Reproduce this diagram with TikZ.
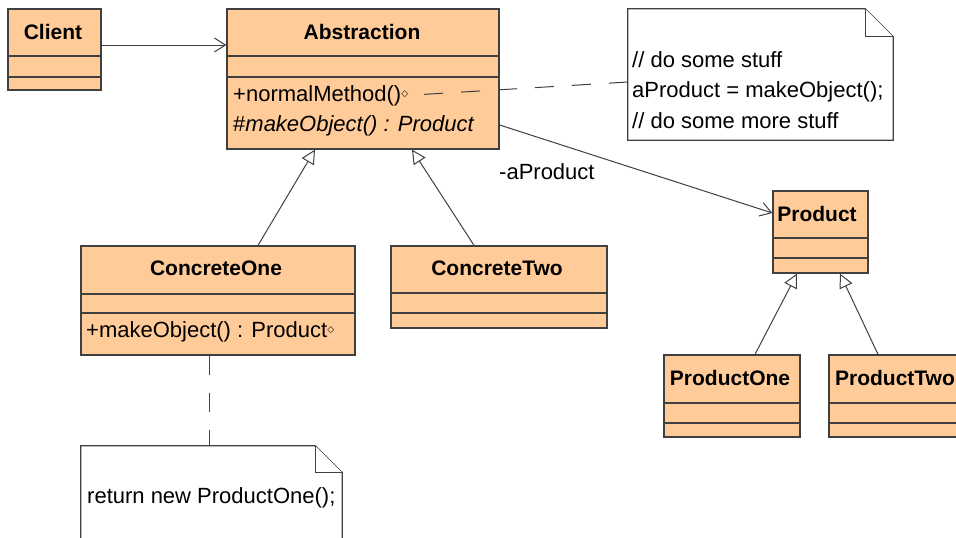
\documentclass[tikz,border=0pt]{standalone}
\usepackage{fontspec}
\setmainfont{Liberation Sans}
\newfontfamily\symfont{DejaVu Sans}
\usetikzlibrary{arrows.meta}
\definecolor{classfill}{RGB}{255,204,153}
\definecolor{umlline}{RGB}{64,64,64}
\newcommand\umlfont{\fontsize{22}{30.5}\selectfont}
\newcommand\umlbold{\fontsize{21}{30.5}\selectfont\bfseries}
\newcommand\opdiamond{{\symfont\fontsize{9}{9}\selectfont\raisebox{5pt}{◇}}}
\tikzset{
  classbox/.style={draw=umlline, fill=classfill, line width=1.3pt, inner sep=0pt},
  compline/.style={draw=umlline, line width=1.3pt},
  classname/.style={font=\umlbold, anchor=base, inner sep=0pt},
  member/.style={font=\umlfont, anchor=base west, inner sep=0pt},
  notebox/.style={inner sep=0pt},
  noteline/.style={draw=umlline, fill=white, line width=1.3pt},
  notetext/.style={font=\umlfont, align=left, anchor=north west, inner sep=0pt},
  assoc/.style={draw=umlline, line width=1pt, -{Straight Barb[length=11pt,width=14pt]}},
  inherit/.style={draw=umlline, line width=1pt, -{Triangle[open,length=14pt,width=14pt,fill=white]}},
  notelink/.style={draw=umlline, line width=1pt, dash pattern=on 19pt off 18pt},
}
\begin{document}
\begin{tikzpicture}[x=1pt, y=-1pt]
\clip (0,0) rectangle (956,538);
\fill[white] (0,0) rectangle (956,538);

% classes
\node[classbox, minimum width=93pt, minimum height=81pt] (client) at (54.5,49.5) {};
\draw[compline] (client.west |- 0,56) -- (client.east |- 0,56) (client.west |- 0,77) -- (client.east |- 0,77);
\node[classname] (clientname) at (53,39) {Client};

\node[classbox, minimum width=272pt, minimum height=140pt] (abstr) at (363,79) {};
\draw[compline] (abstr.west |- 0,56) -- (abstr.east |- 0,56) (abstr.west |- 0,77) -- (abstr.east |- 0,77);
\node[classname] (abstrname) at (362,39) {Abstraction};
\node[member] (m1) at (233,101) {+normalMethod()\opdiamond};
\node[member] (m2) at (233,131) {\upshape\#\textit{makeObject() : Product}};

\node[classbox, minimum width=274pt, minimum height=109pt] (conc1) at (218,300.5) {};
\draw[compline] (conc1.west |- 0,294) -- (conc1.east |- 0,294) (conc1.west |- 0,313) -- (conc1.east |- 0,313);
\node[classname] (conc1name) at (216,275) {ConcreteOne};
\node[member] (m3) at (86,337) {+makeObject() : Product\opdiamond};

\node[classbox, minimum width=216pt, minimum height=82pt] (conc2) at (499,287) {};
\draw[compline] (conc2.west |- 0,293) -- (conc2.east |- 0,293) (conc2.west |- 0,313) -- (conc2.east |- 0,313);
\node[classname] (conc2name) at (497,275) {ConcreteTwo};

\node[classbox, minimum width=95pt, minimum height=82pt] (prod) at (820.5,232) {};
\draw[compline] (prod.west |- 0,238) -- (prod.east |- 0,238) (prod.west |- 0,258) -- (prod.east |- 0,258);
\node[classname] (prodname) at (817,221) {Product};

\node[classbox, minimum width=136pt, minimum height=82pt] (prod1) at (732,396) {};
\draw[compline] (prod1.west |- 0,403) -- (prod1.east |- 0,403) (prod1.west |- 0,423) -- (prod1.east |- 0,423);
\node[classname] (prod1name) at (730,385) {ProductOne};

\node[classbox, minimum width=136pt, minimum height=82pt] (prod2) at (897,396) {};
\draw[compline] (prod2.west |- 0,403) -- (prod2.east |- 0,403) (prod2.west |- 0,423) -- (prod2.east |- 0,423);
\node[classname] (prod2name) at (895,385) {ProductTwo};

% notes
\node[notebox, minimum width=265pt, minimum height=131pt] (note1) at (760.5,74.5) {};
\draw[noteline] (note1.north west) -- ([xshift=-28pt]note1.north east) -- ([yshift=-28pt]note1.north east) -- (note1.south east) -- (note1.south west) -- cycle;
\draw[noteline] ([xshift=-28pt]note1.north east) |- ([yshift=-28pt]note1.north east);
\node[notetext] (note1txt) at (632,51) {// do some stuff\\aProduct = makeObject();\\// do some more stuff};

\node[notebox, minimum width=261pt, minimum height=104pt] (note2) at (211.5,498) {};
\draw[noteline] (note2.north west) -- ([xshift=-27pt]note2.north east) -- ([yshift=-27pt]note2.north east) -- (note2.south east) -- (note2.south west) -- cycle;
\draw[noteline] ([xshift=-27pt]note2.north east) |- ([yshift=-27pt]note2.north east);
\node[member] (note2txt) at (87,503) {return new ProductOne();};

% connectors
\draw[assoc] ([yshift=4.5pt]client.east) -- ([yshift=4.5pt]client.east -| abstr.west);
\draw[inherit] ([xshift=40pt]conc1.north) -- ([xshift=-48pt]abstr.south);
\draw[inherit] ([xshift=-25pt]conc2.north) -- ([xshift=49pt]abstr.south);
\draw[assoc] ([yshift=-46pt]abstr.east) -- ([yshift=19pt]prod.west);
\node[member] (role) at (499,179) {-aProduct};
\draw[inherit] ([xshift=23pt]prod1.north) -- ([xshift=-23.5pt]prod.south);
\draw[inherit] ([xshift=-19pt]prod2.north) -- ([xshift=19.5pt]prod.south);
\draw[notelink, shorten >=6pt] ([yshift=-7.5pt]note1.west) -- (m1.east);
\draw[notelink] ([xshift=-9pt]conc1.south) -- ([xshift=-9pt]conc1.south |- note2.north);
\end{tikzpicture}
\end{document}
